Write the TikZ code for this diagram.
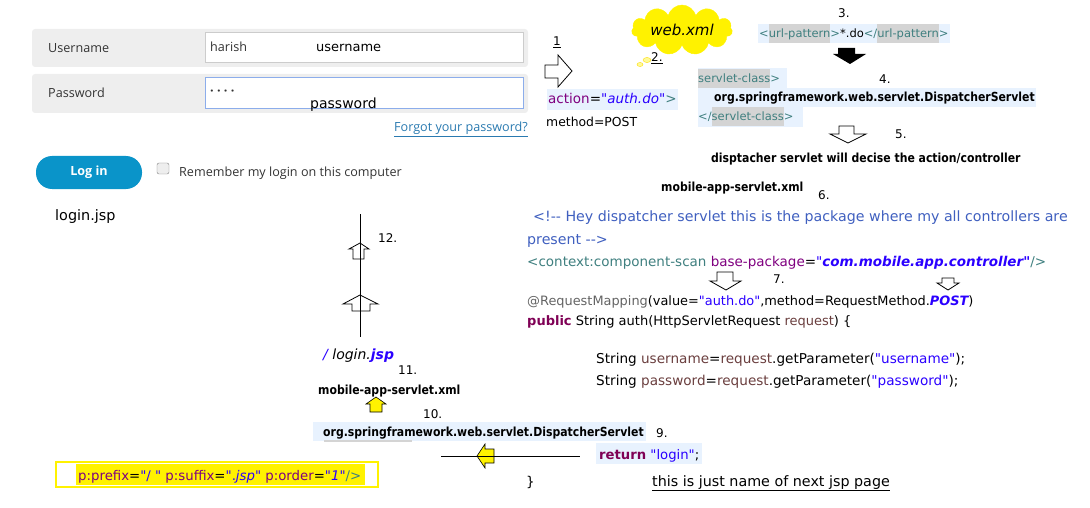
\documentclass[tikz,border=0pt]{standalone}
\usepackage{fontspec}
\setmainfont{DejaVu Sans}[Ligatures=TeXOff]
\newfontfamily\formfont{Open Sans}
\newfontfamily\bfcond[FakeStretch=0.87]{DejaVu Sans}
\usetikzlibrary{shapes.symbols}

\definecolor{tagteal}{HTML}{3F7F7F}
\definecolor{attrpurple}{HTML}{7F007F}
\definecolor{strblue}{HTML}{2A00FF}
\definecolor{cmtblue}{HTML}{3F5FBF}
\definecolor{kwpurple}{HTML}{7F0055}
\definecolor{varbrown}{HTML}{6A3E3E}
\definecolor{annogray}{HTML}{646464}
\definecolor{codebg}{HTML}{E8F2FE}
\definecolor{taggray}{HTML}{D4D4D4}
\definecolor{rowgray}{HTML}{EEEEEE}
\definecolor{inputgray}{HTML}{CCCCCC}
\definecolor{focusblue}{HTML}{8CADEB}
\definecolor{btnblue}{HTML}{0A94C9}
\definecolor{linkblue}{HTML}{2A7AB0}
\definecolor{formtext}{HTML}{333333}

\setlength{\fboxsep}{0pt}
\newcommand\taghl[1]{\colorbox{taggray}{\rule[-5pt]{0pt}{19pt}#1}}

\begin{document}
\begin{tikzpicture}[x=1pt,y=-1pt,
            txt/.style={anchor=base west, inner sep=0pt},
            code/.style={txt, font=\fontsize{#1}{#1}\selectfont},
            code/.default=11.5,
            bcode/.style={txt, font=\bfcond\bfseries\fontsize{12.5}{14}\selectfont},
            num/.style={txt, font=\fontsize{#1}{#1}\selectfont},
            num/.default=12,
            form/.style={txt, font=\formfont\fontsize{12.6}{14}\selectfont, text=formtext},
            hollow/.style={draw=black, fill=white, line width=0.8pt},
            yellowarrow/.style={draw=black, fill=yellow, line width=0.6pt}]

        \useasboundingbox (0,0) rectangle (1090,508);

        % login form
        \fill[rowgray, rounded corners=3] (32,29) rectangle (528,67);
        \fill[rowgray, rounded corners=3] (32,74) rectangle (528,113);
        \draw[inputgray, fill=white, line width=1pt] (205,33) rectangle (523,63);
        \draw[focusblue, fill=white, line width=1pt] (205,78) rectangle (523,109);

        \node[form]            (userlbl)   at (48,53)   {Username};
        \node[form]            (passlbl)   at (48,98)   {Password};
        \node[form]            (uservalue) at (210,52)  {harish};
        \node[num=13]          (usernote)  at (316,52)  {username};
        \node[form, font=\formfont\bfseries\fontsize{12.6}{14}\selectfont]
                               (passdots)  at (210,96)  {· · · ·};
        \node[num=14]          (passnote)  at (310,109) {password};
        \node[form, anchor=base east, text=linkblue]
                               (forgot)    at (528,132) {\underline{Forgot your password?}};
        \node[fill=btnblue, rounded corners=16, minimum width=106, minimum height=33,
              text=white, font=\formfont\bfseries\fontsize{12.6}{14}\selectfont]
                               (loginbtn)  at (89,172.5) {Log in};
        \draw[gray, fill=rowgray, rounded corners=2] (157,163) rectangle (169,174);
        \node[form]            (remember)  at (179,176) {Remember my login on this computer};
        \node[num=14.4]        (loginjsp)  at (55,220)  {login.jsp};

        % step 1 and 2
        \node[num]             (step1)     at (553,46)  {\underline{1}};
        \draw[hollow] (545,65) -- (558,65) -- (558,55) -- (572,71) -- (558,87) -- (558,78) -- (545,78) -- cycle;
        \node[code=13.5, fill=codebg, inner xsep=1pt] (action) at (547,104)
            {\rule[-6pt]{0pt}{21pt}\textcolor{attrpurple}{action}=\textcolor{strblue}{\itshape"auth.do"}\textcolor{tagteal}{>}};
        \node[num=12.4]        (method)    at (546,127) {method=POST};
        \node[cloud, cloud puffs=11, cloud ignores aspect, fill=yellow, draw=yellow,
              minimum width=100, minimum height=50, font=\itshape\fontsize{15}{16}\selectfont]
                               (webxml)    at (682,30)  {web.xml};
        \draw[yellow!80!orange, fill=yellow!40] (647,60) ellipse (4 and 2.5);
        \draw[yellow!80!orange, fill=yellow!40] (640,64.5) ellipse (3 and 2);
        \node[num]             (step2)     at (651,62)  {\underline{2.}};

        % step 3 and 4
        \node[num]             (step3)     at (838,18)  {3.};
        \node[code, fill=codebg, inner xsep=1pt] (urlpattern) at (758,38)
            {\rule[-4pt]{0pt}{18pt}\textcolor{tagteal}{<\taghl{url-pattern}>}*.do\textcolor{tagteal}{</\taghl{url-pattern}>}};
        \fill[black] (838,48) -- (855,48) -- (855,54) -- (866,54) -- (850,64) -- (833,54) -- (838,54) -- cycle;
        \fill[codebg] (698,68) rectangle (787,88);
        \fill[codebg] (698,88) rectangle (1036,107);
        \fill[codebg] (698,107) rectangle (803,127);
        \node[code]            (classopen)  at (698,83)  {\textcolor{tagteal}{\taghl{servlet-class}>}};
        \node[bcode]           (classname)  at (714,102) {org.springframework.web.servlet.DispatcherServlet};
        \node[code]            (classclose) at (698,121) {\textcolor{tagteal}{</\taghl{servlet-class}>}};
        \node[num]             (step4)      at (879,84)  {4.};

        % step 5 and 6
        \draw[hollow] (839,126) -- (854,126) -- (854,134) -- (866,134) -- (848,143) -- (830,134) -- (839,134) -- cycle;
        \node[num]             (step5)      at (895,139) {5.};
        \node[bcode]           (decide)     at (711,163) {disptacher servlet will decise the action/controller};
        \node[bcode]           (mobilexml)  at (661,191) {mobile-app-servlet.xml};
        \node[num]             (step6)      at (818,199) {6.};

        % step 7 and 8
        \node[code=14.2, text=cmtblue] (comment1) at (533,222)
            {<!-\kern0pt- Hey dispatcher servlet this is the package where my all controllers are};
        \node[code=14.2, text=cmtblue] (comment2) at (527,244) {present -\kern0pt->};
        \node[code=13.5]       (scan)       at (527,266)
            {\textcolor{tagteal}{<context:component-scan }\textcolor{attrpurple}{base-package}=\textcolor{strblue}{"\bfseries\itshape com.mobile.app.controller"}\textcolor{tagteal}{/>}};
        \draw[hollow] (717,272) -- (733,272) -- (733,281) -- (741,281) -- (726,290) -- (710,281) -- (717,281) -- cycle;
        \draw[hollow] (942,278) -- (954,278) -- (954,283) -- (959,283) -- (948,290) -- (937,283) -- (942,283) -- cycle;
        \node[num]             (step7)      at (773,283) {7.};
        \node[code=12.9]       (mapping)    at (527,305)
            {\textcolor{annogray}{@RequestMapping}(value=\textcolor{strblue}{"auth.do"},method=RequestMethod.\textcolor{strblue}{\bfseries\itshape POST})};
        \node[code=13]         (signature)  at (527,325)
            {\textcolor{kwpurple}{\bfseries public} String auth(HttpServletRequest \textcolor{varbrown}{request}) \{};
        \node[code=13.6]       (getuser)    at (596,363)
            {String \textcolor{varbrown}{username}=\textcolor{varbrown}{request}.getParameter(\textcolor{strblue}{"username"});};
        \node[code=13.6]       (getpass)    at (596,385)
            {String \textcolor{varbrown}{password}=\textcolor{varbrown}{request}.getParameter(\textcolor{strblue}{"password"});};

        % steps 9 to 12
        \coordinate (viewtop) at (360,214);
        \coordinate (viewbot) at (360,337);
        \draw[hollow] (353,259) -- (353,249) -- (349,249) -- (360,243) -- (369,249) -- (364,249) -- (364,259) -- cycle;
        \draw[hollow] (352,311) -- (352,304) -- (343,304) -- (360,295) -- (378,304) -- (370,304) -- (370,311) -- cycle;
        \draw[line width=1pt] (viewtop) -- (viewbot);
        \node[num]             (step12)     at (378,242) {12.};
        \node[code=14, font=\itshape\fontsize{14}{14}\selectfont] (loginpath) at (323,359)
            {\textcolor{strblue}{/ }login.\textcolor{strblue}{\bfseries jsp}};
        \node[num]             (step11)     at (398,374) {11.};
        \node[bcode]           (mobilexml2) at (318,394) {mobile-app-servlet.xml};
        \draw[yellowarrow] (370,412) -- (370,404) -- (366,404) -- (376,397) -- (386,404) -- (382,404) -- (382,412) -- cycle;
        \node[num]             (step10)     at (423,418) {10.};
        \fill[codebg] (313,422) rectangle (646,441);
        \fill[taggray] (324,440) rectangle (412,442);
        \node[bcode]           (dispatcher2) at (323,436) {org.springframework.web.servlet.DispatcherServlet};
        \node[num]             (step9)      at (656,437) {9.};
        \coordinate (backleft)  at (441,456);
        \coordinate (backright) at (580,456);
        \draw[yellowarrow] (494,449) -- (485,449) -- (485,444) -- (477,456) -- (485,468) -- (485,463) -- (494,463) -- cycle;
        \draw[line width=1pt] (backleft) -- (backright);
        \node[code=13.2, fill=codebg, inner xsep=3pt] (returnstmt) at (596,459)
            {\rule[-5pt]{0pt}{21pt}\textcolor{kwpurple}{\bfseries return} \textcolor{strblue}{"login"};};
        \node[code=13.5]       (brace)      at (526,486) {\}};
        \node[num=14.3]        (note)       at (652,486) {\underline{this is just name of next jsp page}};

        % view resolver
        \draw[yellow, line width=1.2pt, fill=white] (56,462) rectangle (378,487);
        \fill[yellow] (76,464) rectangle (365,485);
        \node[code=13.3]       (viewprops)  at (78,480)
            {\textcolor{attrpurple}{p:prefix}=\textcolor{strblue}{"/ "} \textcolor{attrpurple}{p:suffix}=\textcolor{strblue}{".\itshape jsp\upshape"} \textcolor{attrpurple}{p:order}=\textcolor{strblue}{"\itshape 1\upshape"}\textcolor{tagteal}{/>}};

    \end{tikzpicture}
\end{document}
